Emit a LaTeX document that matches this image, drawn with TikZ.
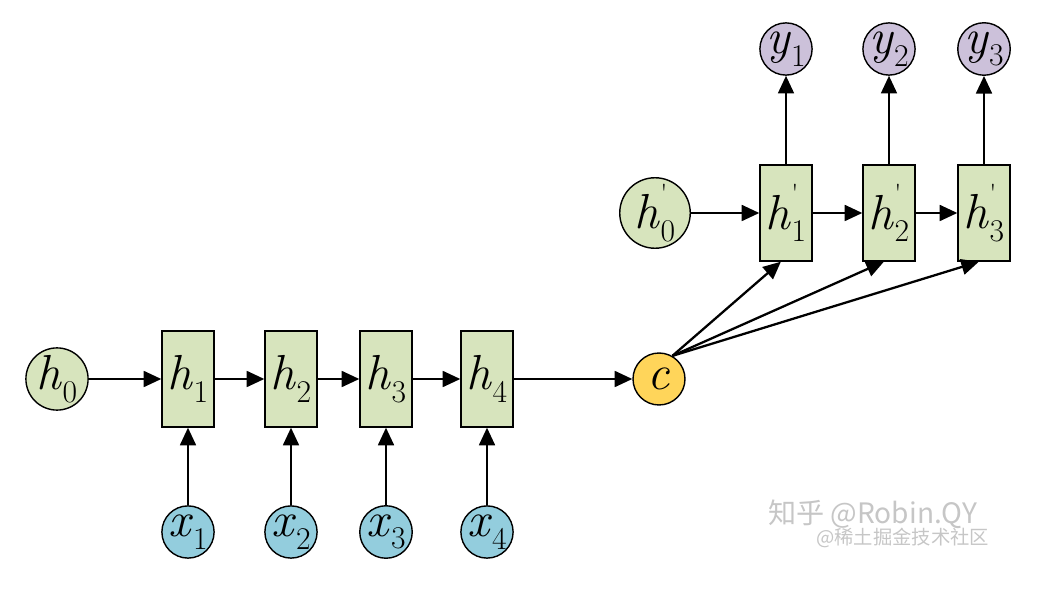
\documentclass[tikz,border=0pt]{standalone}
\usepackage{fontspec}
\newfontfamily\cjk{Noto Sans CJK SC}
\usepackage{xcolor}
\usetikzlibrary{positioning, arrows.meta}

\definecolor{cellgreen}{RGB}{215,228,189}
\definecolor{inblue}{RGB}{147,205,221}
\definecolor{outpurple}{RGB}{204,193,218}
\definecolor{ctxgold}{RGB}{255,213,90}

% variable with subscript, and with prime
\newcommand{\vsub}[2]{\textit{#1}\raisebox{-0.6ex}{\fontsize{18}{18}\selectfont #2}}
\newcommand{\vprime}[2]{\textit{#1}\rlap{\raisebox{1.3ex}{\fontsize{14}{14}\selectfont\textquotesingle}}\raisebox{-0.6ex}{\fontsize{18}{18}\selectfont #2}}

\begin{document}
\begin{tikzpicture}[
    x=0.02cm, y=-0.02cm,
    cell/.style={draw, rectangle, minimum width=1.04cm, minimum height=1.92cm, fill=cellgreen, line width=0.8pt, inner sep=0pt, font=\fontsize{28}{30}\selectfont},
    state/.style={draw, circle, minimum size=1.04cm, inner sep=0pt, line width=0.8pt, fill=cellgreen, font=\fontsize{28}{30}\selectfont},
    inputnode/.style={state, fill=inblue},
    outputnode/.style={state, fill=outpurple},
    ctxnode/.style={state, fill=ctxgold},
    arrow/.style={-{Triangle[length=10pt, width=9pt]}, line width=1.3pt}
]
    \useasboundingbox (0,0) rectangle (1048,594);

    % encoder
    \node[state] (h0) at (57,379) {\vsub{h}{0}};
    \node[cell] (h1) at (188,379) {\vsub{h}{1}};
    \node[cell] (h2) at (291,379) {\vsub{h}{2}};
    \node[cell] (h3) at (386,379) {\vsub{h}{3}};
    \node[cell] (h4) at (487,379) {\vsub{h}{4}};

    \node[inputnode] (x1) at (188,532) {\vsub{x}{1}};
    \node[inputnode] (x2) at (291,532) {\vsub{x}{2}};
    \node[inputnode] (x3) at (386,532) {\vsub{x}{3}};
    \node[inputnode] (x4) at (487,532) {\vsub{x}{4}};

    \node[ctxnode] (c) at (659,379) {\textit{c}};

    % decoder
    \node[state] (d0) at (655,213) {\vprime{h}{0}};
    \node[cell] (d1) at (786,213) {\vprime{h}{1}};
    \node[cell] (d2) at (889,213) {\vprime{h}{2}};
    \node[cell] (d3) at (984,213) {\vprime{h}{3}};

    \node[outputnode] (y1) at (786,49) {\vsub{y}{1}};
    \node[outputnode] (y2) at (889,49) {\vsub{y}{2}};
    \node[outputnode] (y3) at (984,49) {\vsub{y}{3}};

    \draw[arrow] (h0) -- (h1);
    \draw[arrow] (h1) -- (h2);
    \draw[arrow] (h2) -- (h3);
    \draw[arrow] (h3) -- (h4);
    \draw[arrow] (h4) -- (c);
    \foreach \i in {1,...,4}
        \draw[arrow] (x\i) -- (h\i);

    \draw[arrow] (d0) -- (d1);
    \draw[arrow] (d1) -- (d2);
    \draw[arrow] (d2) -- (d3);
    \foreach \i in {1,2,3} {
        \draw[arrow] (d\i) -- (y\i);
        \draw[arrow] (c.60) -- (d\i.-96);
    }

    % watermark
    \node[text=gray!45, font=\cjk\fontsize{16}{18}\selectfont, anchor=west] (wm1) at (762,514) {知乎 @Robin.QY};
    \node[text=gray!45, font=\cjk\fontsize{11}{13}\selectfont, anchor=west] (wm2) at (810,538) {@稀土掘金技术社区};
\end{tikzpicture}
\end{document}
